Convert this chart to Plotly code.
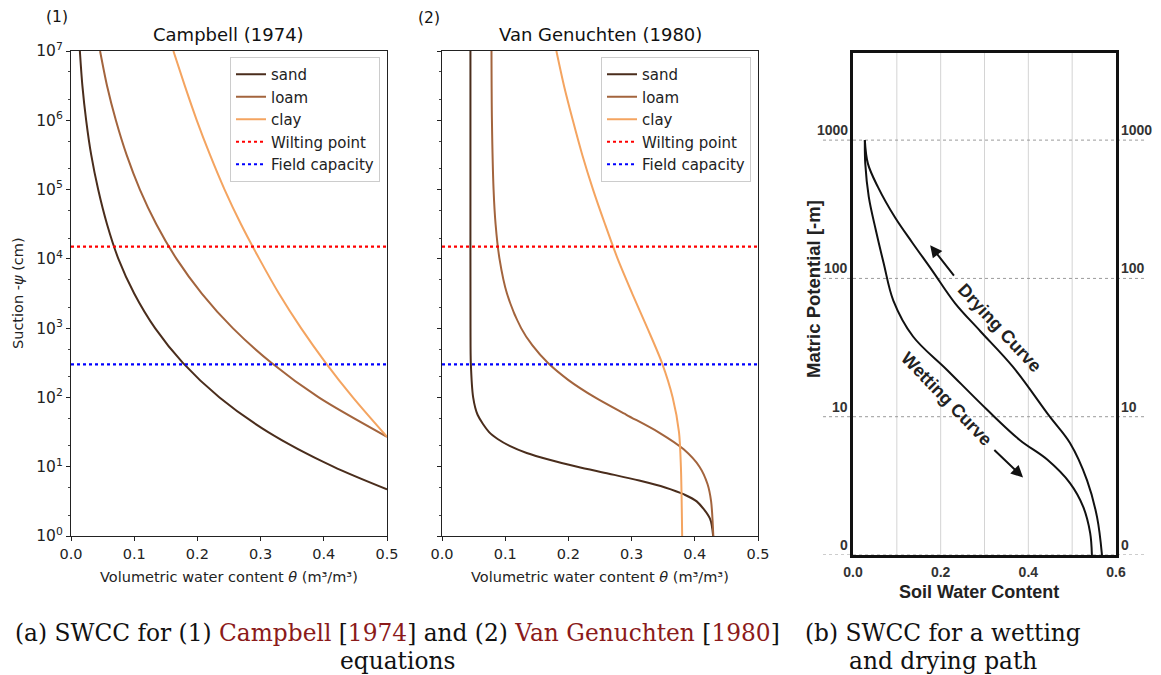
import plotly.graph_objects as go

# ---------------- data ----------------
# Panel (1) Campbell (1974): suction (cm) vs volumetric water content
camp_sand_psi = [1e7, 3.16e6, 1e6, 3.16e5, 1e5, 3.16e4, 1e4, 3.16e3, 1e3, 316, 100, 31.6, 10, 4.7]
camp_sand_theta = [0.014, 0.018, 0.024, 0.032, 0.043, 0.057, 0.075, 0.100, 0.133, 0.177, 0.235, 0.312, 0.415, 0.500]
camp_loam_psi = [1e7, 3.16e6, 1e6, 3.16e5, 1e5, 3.16e4, 1e4, 3.16e3, 1e3, 316, 100, 27]
camp_loam_theta = [0.046, 0.057, 0.071, 0.088, 0.109, 0.135, 0.167, 0.207, 0.256, 0.317, 0.392, 0.500]
camp_clay_psi = [1e7, 3.16e6, 1e6, 3.16e5, 1e5, 3.16e4, 1e4, 3.16e3, 1e3, 316, 100, 27]
camp_clay_theta = [0.162, 0.180, 0.199, 0.220, 0.243, 0.269, 0.298, 0.329, 0.364, 0.403, 0.446, 0.500]

# Panel (2) Van Genuchten (1980)
vg_sand_psi = [1e7, 1e5, 1e3, 316, 100, 56.2, 31.6, 25.1, 20.0, 15.8, 12.6, 10.0, 7.94, 6.31, 5.01, 3.98, 3.16, 1.78, 1.0]
vg_sand_theta = [0.045, 0.045, 0.0451, 0.0456, 0.0493, 0.0563, 0.0745, 0.088, 0.107, 0.134, 0.170, 0.214, 0.264, 0.312, 0.353, 0.383, 0.403, 0.424, 0.429]
vg_loam_psi = [1e7, 1e6, 1e5, 3.16e4, 1e4, 3.16e3, 1e3, 562, 316, 178, 100, 56.2, 31.6, 17.8, 10.0, 5.62, 3.16, 1.0]
vg_loam_theta = [0.0783, 0.079, 0.0816, 0.0848, 0.091, 0.1028, 0.1252, 0.1431, 0.1674, 0.2001, 0.2421, 0.2918, 0.3422, 0.3824, 0.4074, 0.4201, 0.4258, 0.4293]
vg_clay_psi = [1e7, 3.16e6, 1e6, 3.16e5, 1e5, 3.16e4, 1e4, 3.16e3, 1e3, 316, 100, 31.6, 10, 1.0]
vg_clay_theta = [0.181, 0.193, 0.207, 0.222, 0.239, 0.258, 0.278, 0.301, 0.325, 0.348, 0.365, 0.375, 0.378, 0.380]

wilting_point = 15000
field_capacity = 300
theta_span = [0.0, 0.5]

# Panel (b): matric potential level (0, 10, 100, 1000 -> 0..3) vs soil water content
drying_theta = [0.027, 0.034, 0.057, 0.096, 0.135, 0.180, 0.233, 0.290, 0.365, 0.449, 0.495, 0.534, 0.557, 0.568]
drying_level = [3.00, 2.83, 2.66, 2.44, 2.26, 2.06, 1.82, 1.62, 1.36, 1.00, 0.81, 0.54, 0.27, 0.00]
wetting_theta = [0.027, 0.028, 0.036, 0.052, 0.070, 0.092, 0.137, 0.214, 0.306, 0.381, 0.443, 0.495, 0.525, 0.541, 0.545]
wetting_level = [3.00, 2.83, 2.59, 2.35, 2.11, 1.84, 1.58, 1.34, 1.05, 0.83, 0.69, 0.52, 0.35, 0.16, 0.00]
potential_levels = [0, 1, 2, 3]
potential_labels = ["0", "10", "100", "1000"]
swc_ticks = [0.0, 0.2, 0.4, 0.6]
swc_grid = [0.1, 0.2, 0.3, 0.4, 0.5]

soil_names = ["sand", "loam", "clay"]
soil_colors = ["#4a2d1c", "#a3643d", "#f4a460"]

W, H = 1161, 675


def px_x(p):
    return p / W


def px_y(p):
    return 1 - p / H


fig = go.Figure()

camp = [(camp_sand_theta, camp_sand_psi), (camp_loam_theta, camp_loam_psi), (camp_clay_theta, camp_clay_psi)]
vg = [(vg_sand_theta, vg_sand_psi), (vg_loam_theta, vg_loam_psi), (vg_clay_theta, vg_clay_psi)]

for panel, data, lg in [(1, camp, "legend"), (2, vg, "legend2")]:
    xa = "x" if panel == 1 else "x2"
    ya = "y" if panel == 1 else "y2"
    for (th, ps), name, col in zip(data, soil_names, soil_colors):
        fig.add_trace(go.Scatter(x=th, y=ps, mode="lines", name=name,
                                 line=dict(color=col, width=2, shape="spline", smoothing=0.8),
                                 xaxis=xa, yaxis=ya, legend=lg))
    fig.add_trace(go.Scatter(x=theta_span, y=[wilting_point] * 2, mode="lines", name="Wilting point",
                             line=dict(color="#ff0000", width=2.2, dash="dot"), xaxis=xa, yaxis=ya, legend=lg))
    fig.add_trace(go.Scatter(x=theta_span, y=[field_capacity] * 2, mode="lines", name="Field capacity",
                             line=dict(color="#0000ff", width=2.2, dash="dot"), xaxis=xa, yaxis=ya, legend=lg))

# panel b curves
for th, lv in [(drying_theta, drying_level), (wetting_theta, wetting_level)]:
    fig.add_trace(go.Scatter(x=th, y=lv, mode="lines", showlegend=False,
                             line=dict(color="#111111", width=2, shape="spline", smoothing=1.0),
                             xaxis="x3", yaxis="y3"))

ytickvals = [10 ** k for k in range(8)]
yticktext = ["10<sup>%d</sup>" % k for k in range(8)]
MPL = "DejaVu Sans"
tickfont = dict(family=MPL, size=14.5, color="#222")

common_x = dict(range=[0, 0.5], tickvals=[0, 0.1, 0.2, 0.3, 0.4, 0.5],
                ticktext=["0.0", "0.1", "0.2", "0.3", "0.4", "0.5"],
                showline=True, mirror=True, linecolor="#222", linewidth=1.2, automargin=False,
                ticks="outside", ticklen=4, tickcolor="#222", showgrid=False, zeroline=False,
                tickfont=tickfont)
common_y = dict(type="log", range=[0, 7], tickvals=ytickvals, automargin=False,
                showline=True, mirror=True, linecolor="#222", linewidth=1.2,
                ticks="outside", ticklen=4, tickcolor="#222", showgrid=False, zeroline=False,
                tickfont=dict(family=MPL, size=15.5, color="#222"),
                minor=dict(ticks="outside", ticklen=2, tickcolor="#444", showgrid=False))

legend_common = dict(yanchor="top", xanchor="right",
                     bgcolor="rgba(255,255,255,0.9)", bordercolor="#cccccc", borderwidth=1,
                     font=dict(family=MPL, size=15, color="#222"), itemwidth=30, tracegroupgap=0)

fig.update_layout(
    width=W, height=H, margin=dict(l=0, r=0, t=0, b=0, pad=0, autoexpand=False), autosize=False,
    paper_bgcolor="white", plot_bgcolor="white",
    xaxis=dict(domain=[px_x(71), px_x(387)], anchor="y", **common_x),
    yaxis=dict(domain=[px_y(536), px_y(51)], anchor="x", ticktext=yticktext, **common_y),
    xaxis2=dict(domain=[px_x(442), px_x(758)], anchor="y2", **common_x),
    yaxis2=dict(domain=[px_y(536), px_y(51)], anchor="x2", showticklabels=False, **common_y),
    xaxis3=dict(domain=[px_x(853), px_x(1116)], anchor="y3", range=[0, 0.6], automargin=False,
                tickvals=swc_ticks, ticktext=["<b>%.1f</b>" % v for v in swc_ticks],
                tickfont=dict(family="Liberation Sans", size=14, color="#333"),
                ticklabelstandoff=2,
                showline=True, mirror=True, linecolor="#111", linewidth=2.5,
                ticks="", showgrid=False, zeroline=False),
    yaxis3=dict(domain=[px_y(555), px_y(53)], anchor="x3", range=[0, 3.63], automargin=False,
                showticklabels=False, ticks="", showgrid=False, zeroline=False,
                showline=True, mirror=True, linecolor="#111", linewidth=2.5),
    legend=dict(x=px_x(380), y=px_y(57), **legend_common),
    legend2=dict(x=px_x(751), y=px_y(57), **legend_common),
    showlegend=True,
)

# panel b grid lines
shapes = []
for g in swc_grid:
    shapes.append(dict(type="line", xref="x3", yref="y3 domain", x0=g, x1=g, y0=0, y1=1,
                       line=dict(color="#d4d4d4", width=1), layer="below"))
for lv in potential_levels:
    shapes.append(dict(type="line", xref="x3 domain", yref="y3", x0=-0.114, x1=1.114, y0=lv, y1=lv,
                       line=dict(color="#9a9a9a", width=1, dash="dot"), layer="below"))
fig.update_layout(shapes=shapes)


def txt(text, x, y, size, family=MPL, color="#111", angle=0, **kw):
    d = dict(text=text, x=px_x(x), y=px_y(y), xref="paper", yref="paper", showarrow=False,
             xanchor="center", yanchor="middle", textangle=angle,
             font=dict(family=family, size=size, color=color))
    d.update(kw)
    return d


ann = []
# titles and axis titles of panels (1) and (2)
ann.append(txt("Campbell (1974)", 229, 35, 18))
ann.append(txt("Van Genuchten (1980)", 600, 35, 18))
ann.append(txt("(1)", 57, 17, 15.5))
ann.append(txt("(2)", 429, 18, 15.5))
ann.append(txt("Volumetric water content <i>θ</i> (m³/m³)", 229, 577, 14.5, color="#222"))
ann.append(txt("Volumetric water content <i>θ</i> (m³/m³)", 600, 577, 14.5, color="#222"))
ann.append(txt("Suction -<i>ψ</i> (cm)", 18, 293, 14.5, color="#222", angle=-90))

# panel b level labels (both sides, above the lines)
for lv, lab in zip(potential_levels, potential_labels):
    ann.append(dict(text="<b>%s</b>" % lab, x=-0.013, y=lv, xref="x3 domain", yref="y3",
                    xanchor="right", yanchor="bottom", yshift=0, showarrow=False,
                    font=dict(family="Liberation Sans", size=14, color="#333")))
    ann.append(dict(text="<b>%s</b>" % lab, x=1.012, y=lv, xref="x3 domain", yref="y3",
                    xanchor="left", yanchor="bottom", yshift=0, showarrow=False,
                    font=dict(family="Liberation Sans", size=14, color="#333")))
ann.append(txt("<b>Matric Potential [-m]</b>", 813, 289, 18.5, family="Liberation Sans", color="#222", angle=-90))
ann.append(txt("<b>Soil Water Content</b>", 979, 592, 18, family="Liberation Sans", color="#222"))
ann.append(dict(text="<b>Drying Curve</b>", x=0.335, y=1.64, xref="x3", yref="y3", textangle=47,
                showarrow=False, font=dict(family="Liberation Sans", size=18, color="#222")))
ann.append(dict(text="<b>Wetting Curve</b>", x=0.214, y=1.13, xref="x3", yref="y3", textangle=46,
                showarrow=False, font=dict(family="Liberation Sans", size=18, color="#222")))
# arrows
ann.append(dict(x=0.176, y=2.24, ax=0.233, ay=2.01, xref="x3", yref="y3", axref="x3", ayref="y3",
                text="", showarrow=True, arrowhead=2, arrowsize=1.2, arrowwidth=2, arrowcolor="#111"))
ann.append(dict(x=0.388, y=0.56, ax=0.319, ay=0.77, xref="x3", yref="y3", axref="x3", ayref="y3",
                text="", showarrow=True, arrowhead=2, arrowsize=1.2, arrowwidth=2, arrowcolor="#111"))

# captions
red = "#8b1a1a"
CAP = "DejaVu Serif"
ann.append(txt(("(a) SWCC for (1) <span style='color:%s'>Campbell</span> [<span style='color:%s'>1974</span>] "
                "and (2) <span style='color:%s'>Van Genuchten</span> [<span style='color:%s'>1980</span>]")
               % (red, red, red, red), 397, 632, 23.3, family=CAP))
ann.append(txt("equations", 397, 660, 23.3, family=CAP))
ann.append(txt("(b) SWCC for a wetting", 943, 632, 23.3, family=CAP))
ann.append(txt("and drying path", 943, 660, 23.3, family=CAP))

fig.update_layout(annotations=ann)

fig.write_html("out.html",
               post_script="document.body.style.margin='0px';document.body.style.overflow='hidden';")
